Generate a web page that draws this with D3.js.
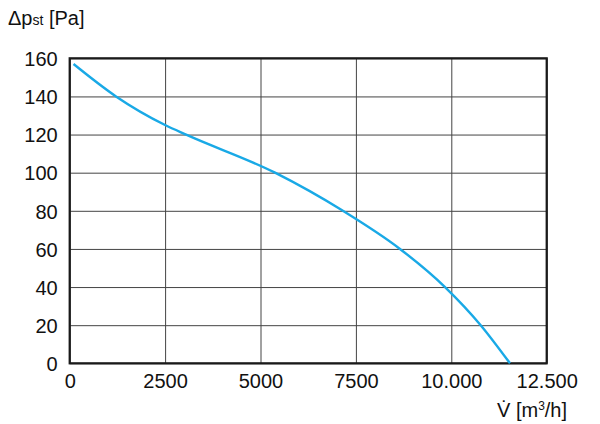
<!DOCTYPE html>
<html>
<head>
<meta charset="utf-8">
<script src="https://cdn.jsdelivr.net/npm/d3@7"></script>
<style>
  body { margin: 0; background: #fff; }
  text { font-family: "Liberation Sans", Arial, sans-serif; fill: #111; }
</style>
</head>
<body>
<svg id="chart"></svg>
<script>
// fan curve: volume flow [m3/h] vs static pressure [Pa]
var flow     = [100, 1213, 2500, 3066, 5380, 7160, 8655, 9835, 10770, 11538];
var pressure = [157, 140, 125, 119.8, 100, 80, 60, 40, 20, 0];

var xTicks = [0, 2500, 5000, 7500, 10000, 12500];
var xTickLabels = ["0", "2500", "5000", "7500", "10.000", "12.500"];
var yTicks = [0, 20, 40, 60, 80, 100, 120, 140, 160];

var width = 600, height = 424;
var margin = {left: 69.7, top: 58.3, right: 53.3, bottom: 60.7};

var svg = d3.select("#chart")
	.attr("width", width)
	.attr("height", height);

var x = d3.scaleLinear().domain([0, 12500]).range([margin.left, width - margin.right]);
var y = d3.scaleLinear().domain([0, 160]).range([height - margin.bottom, margin.top]);

// grid
var gx = svg.append("g")
	.attr("transform", "translate(0," + (height - margin.bottom) + ")")
	.call(d3.axisBottom(x)
		.tickValues(xTicks)
		.tickSize(-(y(0) - y(160)))
		.tickPadding(11)
		.tickFormat(function(d, i) { return xTickLabels[i]; }));

var gy = svg.append("g")
	.attr("transform", "translate(" + margin.left + ",0)")
	.call(d3.axisLeft(y)
		.tickValues(yTicks)
		.tickSize(-(x(12500) - x(0)))
		.tickPadding(12));

[gx, gy].forEach(function(g) {
	g.select(".domain").remove();
	g.selectAll(".tick line").attr("stroke", "#444").attr("stroke-width", 1);
	g.selectAll(".tick text")
		.style("font-family", "'Liberation Sans', Arial, sans-serif")
		.style("font-size", "20px")
		.attr("fill", "#111");
});
gy.selectAll(".tick text").attr("dy", "0.36em");

// frame
svg.append("rect")
	.attr("x", x(0))
	.attr("y", y(160))
	.attr("width", x(12500) - x(0))
	.attr("height", y(0) - y(160))
	.attr("fill", "none")
	.attr("stroke", "#1a1a1a")
	.attr("stroke-width", 2.2);

// curve
var pts = flow.map(function(v, i) { return [v, pressure[i]]; });
var line = d3.line()
	.x(function(d) { return x(d[0]); })
	.y(function(d) { return y(d[1]); })
	.curve(d3.curveMonotoneX);

svg.append("path")
	.datum(pts)
	.attr("d", line)
	.attr("fill", "none")
	.attr("stroke", "#19a9e6")
	.attr("stroke-width", 2.4);

// axis titles
var yt = svg.append("text")
	.attr("x", 8)
	.attr("y", 25)
	.style("font-size", "20px");
yt.append("tspan").text("\u0394p");
yt.append("tspan").style("font-size", "14px").text("st");
yt.append("tspan").text(" [Pa]");

var xt = svg.append("text")
	.attr("x", 497)
	.attr("y", 417)
	.style("font-size", "20px");
xt.append("tspan").text("V\u0307 [m");
xt.append("tspan").style("font-size", "12px").attr("dy", "-7").text("3");
xt.append("tspan").attr("dy", "7").text("/h]");
</script>
</body>
</html>
